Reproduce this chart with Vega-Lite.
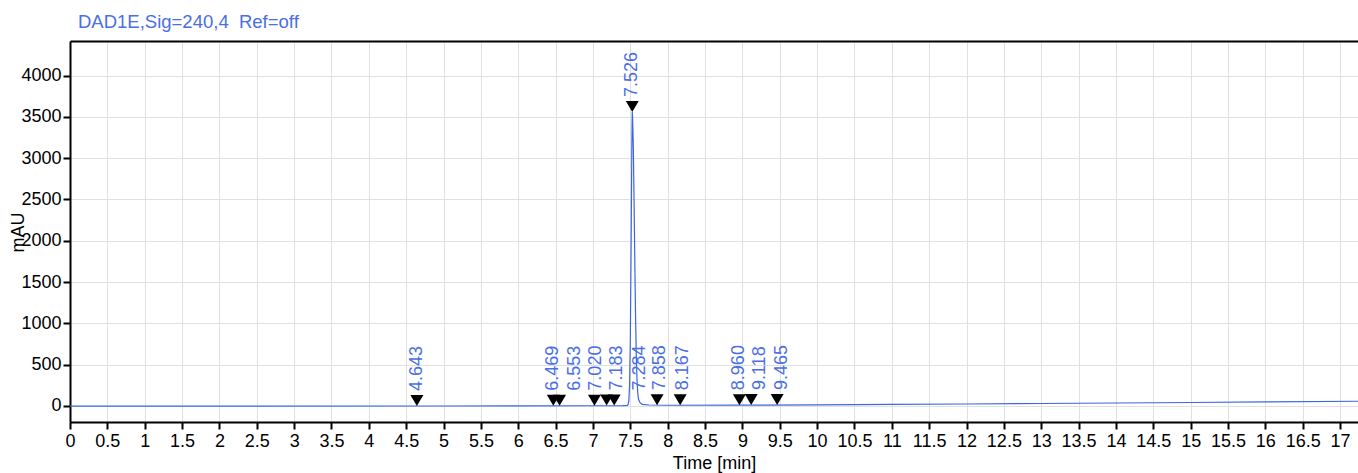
{
  "$schema": "https://vega.github.io/schema/vega-lite/v6.json",
  "autosize": {"type": "none"},
  "width": 1288,
  "height": 381,
  "padding": {"left": 70, "top": 41, "right": 0, "bottom": 51},
  "background": "white",
  "title": {
    "text": "DAD1E,Sig=240,4 \u00a0Ref=off",
    "anchor": "start",
    "frame": "group",
    "dx": 8,
    "dy": 17,
    "offset": 12,
    "baseline": "alphabetic",
    "fontSize": 18.5,
    "font": "Liberation Sans",
    "fontWeight": "normal",
    "color": "#4a6ee6"
  },
  "config": {
    "view": {"stroke": null},
    "axis": {
      "labelFont": "Liberation Sans",
      "titleFont": "Liberation Sans",
      "labelFontSize": 18,
      "titleFontSize": 18,
      "titleFontWeight": "normal",
      "labelColor": "black",
      "titleColor": "black",
      "domainColor": "black",
      "domainWidth": 2,
      "tickColor": "black",
      "tickWidth": 2,
      "tickSize": 7,
      "gridColor": "#e0e0e0",
      "gridWidth": 1
    }
  },
  "datasets": {
    "signal": [
      {"t": 0, "mAU": -2},
      {"t": 2.0, "mAU": -1},
      {"t": 5.0, "mAU": 0},
      {"t": 6.0, "mAU": 2},
      {"t": 7.0, "mAU": 3},
      {"t": 7.4, "mAU": 5},
      {"t": 7.46, "mAU": 8},
      {"t": 7.47, "mAU": 15},
      {"t": 7.48, "mAU": 60},
      {"t": 7.49, "mAU": 250},
      {"t": 7.5, "mAU": 800},
      {"t": 7.51, "mAU": 1900},
      {"t": 7.52, "mAU": 3100},
      {"t": 7.526, "mAU": 3560},
      {"t": 7.53, "mAU": 3500},
      {"t": 7.54, "mAU": 3150},
      {"t": 7.55, "mAU": 2500},
      {"t": 7.56, "mAU": 1750},
      {"t": 7.57, "mAU": 1100},
      {"t": 7.58, "mAU": 600},
      {"t": 7.59, "mAU": 300},
      {"t": 7.6, "mAU": 150},
      {"t": 7.61, "mAU": 80},
      {"t": 7.63, "mAU": 40},
      {"t": 7.66, "mAU": 20},
      {"t": 7.75, "mAU": 12},
      {"t": 8.0, "mAU": 9},
      {"t": 9.0, "mAU": 10},
      {"t": 10.0, "mAU": 14},
      {"t": 11.0, "mAU": 19},
      {"t": 12.0, "mAU": 24},
      {"t": 13.0, "mAU": 30},
      {"t": 14.0, "mAU": 36},
      {"t": 15.0, "mAU": 42},
      {"t": 16.0, "mAU": 49},
      {"t": 17.24, "mAU": 57}
    ],
    "peaks": [
      {"rt": 4.643, "height": 0, "label": "4.643", "label_t": 4.643},
      {"rt": 6.469, "height": 3, "label": "6.469", "label_t": 6.469},
      {"rt": 6.553, "height": 3, "label": "6.553", "label_t": 6.76},
      {"rt": 7.02, "height": 4, "label": "7.020", "label_t": 7.04},
      {"rt": 7.183, "height": 5, "label": "7.183", "label_t": 7.317},
      {"rt": 7.284, "height": 5, "label": "7.284", "label_t": 7.63},
      {"rt": 7.526, "height": 3560, "label": "7.526", "label_t": 7.526},
      {"rt": 7.858, "height": 9, "label": "7.858", "label_t": 7.9},
      {"rt": 8.167, "height": 9, "label": "8.167", "label_t": 8.2},
      {"rt": 8.96, "height": 10, "label": "8.960", "label_t": 8.95},
      {"rt": 9.118, "height": 11, "label": "9.118", "label_t": 9.24},
      {"rt": 9.465, "height": 12, "label": "9.465", "label_t": 9.53}
    ]
  },
  "layer": [
    {
      "data": {"name": "signal"},
      "mark": {"type": "line", "color": "#3b67e0", "strokeWidth": 1.2, "clip": true},
      "encoding": {
        "x": {
          "field": "t",
          "type": "quantitative",
          "scale": {"domain": [0, 17.24], "nice": false, "zero": false},
          "axis": {
            "values": [0,0.5,1,1.5,2,2.5,3,3.5,4,4.5,5,5.5,6,6.5,7,7.5,8,8.5,9,9.5,10,10.5,11,11.5,12,12.5,13,13.5,14,14.5,15,15.5,16,16.5,17],
            "format": ".1~f",
            "title": "Time [min]",
            "titlePadding": 4,
            "labelPadding": 3,
            "labelOverlap": false,
            "labelFlush": false
          }
        },
        "y": {
          "field": "mAU",
          "type": "quantitative",
          "scale": {"domain": [-194, 4419], "nice": false, "zero": false},
          "axis": {
            "values": [0,500,1000,1500,2000,2500,3000,3500,4000],
            "format": "d",
            "title": "mAU",
            "titleAngle": -90,
            "titleX": -52,
            "titleY": 191,
            "titleAlign": "center",
            "titleBaseline": "middle",
            "labelPadding": 2,
            "labelOverlap": false
          }
        }
      }
    },
    {
      "data": {"name": "peaks"},
      "mark": {
        "type": "point",
        "shape": "M-0.65,-1.1L0.65,-1.1L0,0Z",
        "filled": true,
        "color": "black",
        "opacity": 1,
        "size": 400
      },
      "encoding": {
        "x": {"field": "rt", "type": "quantitative", "axis": null},
        "y": {"field": "height", "type": "quantitative"}
      }
    },
    {
      "data": {"name": "peaks"},
      "mark": {
        "type": "text",
        "angle": 270,
        "align": "left",
        "baseline": "middle",
        "dx": 15,
        "font": "Liberation Sans",
        "fontSize": 18,
        "color": "#4a6ee6"
      },
      "encoding": {
        "x": {
          "field": "label_t",
          "type": "quantitative",
          "axis": {"orient": "top", "labels": false, "ticks": false, "grid": false, "title": null, "domainColor": "black", "domainWidth": 2}
        },
        "y": {"field": "height", "type": "quantitative"},
        "text": {"field": "label"}
      }
    }
  ],
  "resolve": {"axis": {"x": "independent"}}
}
